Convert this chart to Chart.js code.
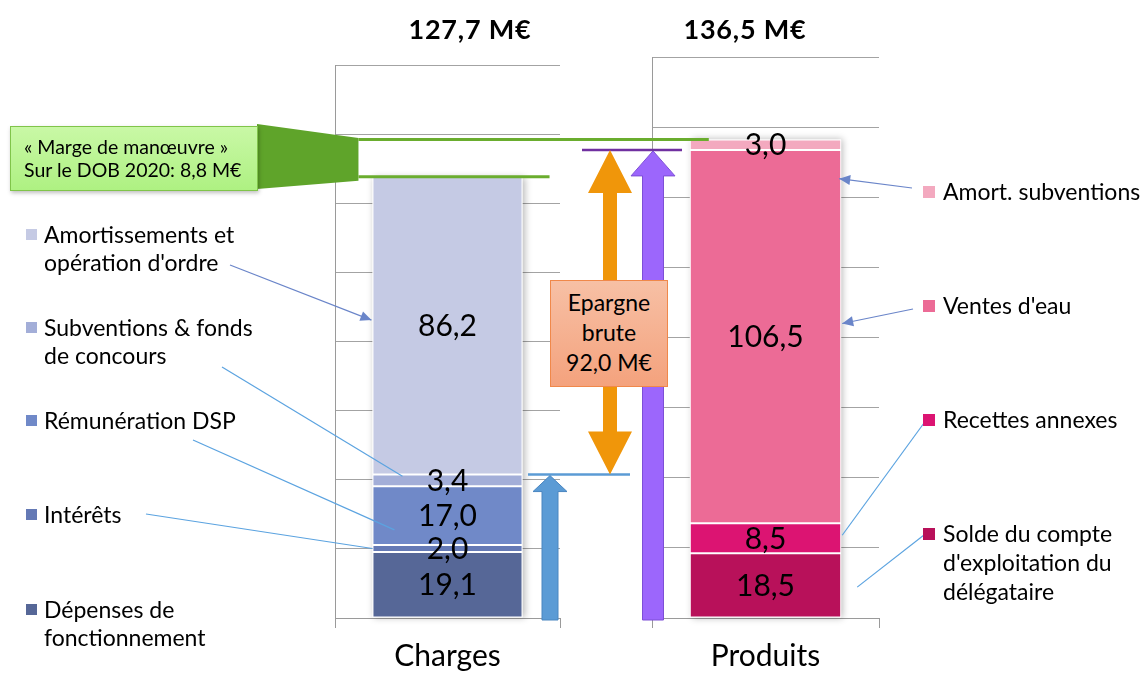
<!DOCTYPE html>
<html lang="fr">
<head>
  <meta charset="UTF-8"/>
  <title>Charges / Produits</title>
  <script src="https://cdn.jsdelivr.net/npm/chart.js"></script>
  <style>
    body { margin: 0; background: #fff; font-family: Lato, "Open Sans", sans-serif; color: #000; }
    #wrap { position: relative; width: 1145px; height: 673px; overflow: hidden; }
    canvas { position: absolute; left: 0; top: 0; }
    .txt { position: absolute; font-size: 23px; line-height: 28px; white-space: nowrap; z-index: 5; }
    .txt .sq { position: absolute; left: 0; top: 9px; width: 11px; height: 11px; }
    .txt span.t { position: absolute; left: 18px; top: 0; }
    .right .sq { width: 12px; height: 12px; }
    .right span.t { left: 20px; }
    .total { position: absolute; top: 12px; font-weight: bold; font-size: 27px; line-height: 34px; letter-spacing: .8px; transform: translateX(-50%); z-index: 5; }
    #marge { position: absolute; left: 10px; top: 126px; width: 233px; height: 55px; padding: 8px 0 0 13px;
             background: linear-gradient(#c9f8a6, #aef182); border: 1px solid #80c44a; font-size: 19.5px; line-height: 23px;
             box-shadow: 1px 2px 4px rgba(0,0,0,.25); z-index: 5; }
    #epargne { position: absolute; left: 550px; top: 280px; width: 116px; height: 99px; padding-top: 6px; text-align: center;
               background: linear-gradient(#f7c0a5, #f4a27d); border: 1.5px solid #f0884a; font-size: 23px; line-height: 30px; z-index: 5; }
  </style>
</head>
<body>
<div id="wrap">
  <canvas id="chargesChart" width="1145" height="673"></canvas>
  <canvas id="produitsChart" width="1145" height="673"></canvas>
  <div class="total" id="totCharges" style="left:470px"></div>
  <div class="total" id="totProduits" style="left:745px"></div>
  <div id="marge"></div>
  <div id="epargne"></div>
  <div id="legends"></div>
</div>
<script>
const categories = ['Charges', 'Produits'];

const chargesNames = ['Dépenses de fonctionnement', 'Intérêts', 'Rémunération DSP', 'Subventions & fonds de concours', "Amortissements et opération d'ordre"];
const chargesValues = [19.1, 2.0, 17.0, 3.4, 86.2];
const chargesColors = ['#566797', '#6479b5', '#7089c8', '#a3aed8', '#c5cae4'];

const produitsNames = ["Solde du compte d'exploitation du délégataire", 'Recettes annexes', "Ventes d'eau", 'Amort. subventions'];
const produitsValues = [18.5, 8.5, 106.5, 3.0];
const produitsColors = ['#b8115a', '#dc1472', '#ec6b96', '#f3a9bf'];

const yMax = 160, yStep = 20;

const fmt = v => v.toFixed(1).replace('.', ',');
const cum = a => a.reduce((r, v) => (r.push(r[r.length - 1] + v), r), [0]);

const cumC = cum(chargesValues), cumP = cum(produitsValues);
const totalC = cumC[cumC.length - 1], totalP = cumP[cumP.length - 1];
const capaciteTop = cumP[3];            // produits hors amort. subventions
const chargesReelles = cumC[4];         // charges hors amortissements
const epargne = capaciteTop - chargesReelles;
const marge = totalP - totalC;

// --- text blocks
document.getElementById('totCharges').textContent = fmt(totalC) + ' M€';
document.getElementById('totProduits').textContent = fmt(totalP) + ' M€';
document.getElementById('marge').innerHTML = '« Marge de manœuvre »<br>Sur le DOB 2020: ' + fmt(marge) + ' M€';
document.getElementById('epargne').innerHTML = 'Epargne<br>brute<br>' + fmt(epargne) + ' M€';

const legendLines = {
  "Amortissements et opération d'ordre": ['Amortissements et', "opération d'ordre"],
  'Subventions & fonds de concours': ['Subventions & fonds', 'de concours'],
  'Dépenses de fonctionnement': ['Dépenses de', 'fonctionnement'],
  "Solde du compte d'exploitation du délégataire": ['Solde du compte', "d'exploitation du", 'délégataire']
};
const legendLeft = [[4, 229], [3, 322], [2, 415], [1, 509], [0, 604]];
const legendRight = [[3, 186], [2, 300], [1, 414], [0, 528]];
const legendBox = document.getElementById('legends');
function addLegend(name, color, x, sqTop, right) {
  const d = document.createElement('div');
  d.className = 'txt' + (right ? ' right' : '');
  d.style.left = x + 'px';
  d.style.top = (sqTop - 9) + 'px';
  const lines = legendLines[name] || [name];
  d.innerHTML = `<div class="sq" style="background:${color}"></div><span class="t">${lines.join('<br>')}</span>`;
  if (right) d.style.lineHeight = '29px';
  legendBox.appendChild(d);
}
legendLeft.forEach(([i, y]) => addLegend(chargesNames[i], chargesColors[i], 26, y, false));
legendRight.forEach(([i, y]) => addLegend(produitsNames[i], produitsColors[i], 923, y, true));

// --- plugins
const barShadow = {
  id: 'barShadow',
  beforeDatasetsDraw(chart) {
    const n = chart.data.datasets.length;
    const b = chart.getDatasetMeta(0).data[0], t = chart.getDatasetMeta(n - 1).data[0];
    const ctx = chart.ctx;
    ctx.save();
    ctx.shadowColor = 'rgba(0,0,0,0.28)';
    ctx.shadowBlur = 7;
    ctx.shadowOffsetX = 2;
    ctx.fillStyle = '#fff';
    ctx.fillRect(b.x - b.width / 2, t.y, b.width, b.base - t.y);
    ctx.restore();
  }
};
const valueLabels = {
  id: 'valueLabels',
  afterDatasetsDraw(chart) {
    const ctx = chart.ctx;
    ctx.save();
    ctx.font = '30px Lato';
    ctx.fillStyle = '#000';
    ctx.textAlign = 'center';
    ctx.textBaseline = 'middle';
    chart.data.datasets.forEach((ds, i) => {
      const el = chart.getDatasetMeta(i).data[0];
      ctx.fillText(fmt(ds.data[0]), el.x, (el.y + el.base) / 2 + 1);
    });
    ctx.restore();
  }
};

function makeChart(id, cat, names, values, colors, pad, extra) {
  return new Chart(document.getElementById(id), {
    type: 'bar',
    data: {
      labels: [cat],
      datasets: names.map((n, i) => ({
        label: n, data: [values[i]], backgroundColor: colors[i],
        borderColor: '#fff', borderWidth: 1, borderSkipped: false,
        barPercentage: 0.667, categoryPercentage: 1
      }))
    },
    options: {
      responsive: false, animation: false,
      layout: { padding: pad },
      plugins: { legend: { display: false }, tooltip: { enabled: false } },
      scales: {
        x: {
          stacked: true,
          grid: { offset: true, drawOnChartArea: false, tickLength: 10, color: '#9a9a9a' },
          border: { color: '#9a9a9a' },
          ticks: { padding: 10, color: '#000', font: { family: 'Lato', size: 30 } },
          afterFit(s) { s.height = 55; }
        },
        y: {
          stacked: true, min: 0, max: yMax,
          ticks: { stepSize: yStep, display: false },
          grid: { color: '#a3a3a3', drawTicks: false },
          border: { color: '#9a9a9a' },
          afterFit(s) { s.width = 0; }
        }
      }
    },
    plugins: [barShadow, valueLabels].concat(extra || [])
  });
}

const chargesChart = makeChart('chargesChart', categories[0], chargesNames, chargesValues, chargesColors,
  { left: 335, right: 1145 - 560, top: 65, bottom: 0 });

function upArrow(ctx, x, tail, tip, sw, hw, hh, fill, stroke) {
  ctx.beginPath();
  ctx.moveTo(x - sw / 2, tail);
  ctx.lineTo(x - sw / 2, tip + hh);
  ctx.lineTo(x - hw / 2, tip + hh);
  ctx.lineTo(x, tip);
  ctx.lineTo(x + hw / 2, tip + hh);
  ctx.lineTo(x + sw / 2, tip + hh);
  ctx.lineTo(x + sw / 2, tail);
  ctx.closePath();
  ctx.fillStyle = fill; ctx.fill();
  if (stroke) { ctx.strokeStyle = stroke; ctx.lineWidth = 1; ctx.stroke(); }
}
function doubleArrow(ctx, x, top, bot, sw, hw, hh, fill) {
  ctx.beginPath();
  ctx.moveTo(x, top);
  ctx.lineTo(x + hw / 2, top + hh);
  ctx.lineTo(x + sw / 2, top + hh);
  ctx.lineTo(x + sw / 2, bot - hh);
  ctx.lineTo(x + hw / 2, bot - hh);
  ctx.lineTo(x, bot);
  ctx.lineTo(x - hw / 2, bot - hh);
  ctx.lineTo(x - sw / 2, bot - hh);
  ctx.lineTo(x - sw / 2, top + hh);
  ctx.lineTo(x - hw / 2, top + hh);
  ctx.closePath();
  ctx.fillStyle = fill; ctx.fill();
}
function line(ctx, x1, y1, x2, y2, color, w) {
  ctx.beginPath(); ctx.moveTo(x1, y1); ctx.lineTo(x2, y2);
  ctx.strokeStyle = color; ctx.lineWidth = w; ctx.stroke();
}
function leader(ctx, x1, y1, x2, y2, color, head) {
  line(ctx, x1, y1, x2, y2, color, 1.2);
  if (!head) return;
  const a = Math.atan2(y2 - y1, x2 - x1), L = 11, W = 5;
  ctx.beginPath();
  ctx.moveTo(x2, y2);
  ctx.lineTo(x2 - L * Math.cos(a) + W * Math.sin(a), y2 - L * Math.sin(a) - W * Math.cos(a));
  ctx.lineTo(x2 - L * Math.cos(a) - W * Math.sin(a), y2 - L * Math.sin(a) + W * Math.cos(a));
  ctx.closePath();
  ctx.fillStyle = color; ctx.fill();
}

const annotations = {
  id: 'annotations',
  afterDraw(chart) {
    const ctx = chart.ctx;
    const yC = chargesChart.scales.y, yP = chart.scales.y;
    const bc = chargesChart.getDatasetMeta(0).data[0], bp = chart.getDatasetMeta(0).data[0];
    const cL = bc.x - bc.width / 2, cR = bc.x + bc.width / 2;
    const pL = bp.x - bp.width / 2, pR = bp.x + bp.width / 2;
    const yTopP = yP.getPixelForValue(totalP), yTopC = yC.getPixelForValue(totalC);
    const yCap = yP.getPixelForValue(capaciteTop), yReel = yC.getPixelForValue(chargesReelles);
    const base = yP.getPixelForValue(0) + 2;
    ctx.save();

    // marge de manoeuvre
    ctx.beginPath();
    ctx.moveTo(257, 124); ctx.lineTo(cL - 14, yTopP - 1.5);
    ctx.lineTo(cL - 14, yTopC + 4); ctx.lineTo(257, 189);
    ctx.closePath(); ctx.fillStyle = '#5fa42a'; ctx.fill();
    line(ctx, cL - 14, yTopP, pL + 19, yTopP, '#6aad2e', 3);
    line(ctx, cL - 14, yTopC, cR + 27, yTopC, '#6aad2e', 3);

    // epargne brute
    line(ctx, 582, yCap, 682, yCap, '#7030a0', 2.5);
    line(ctx, 528, yReel, 630, yReel, '#5b9bd5', 2.5);
    doubleArrow(ctx, 610, yCap, yReel, 14, 44, 43, '#f0960a');
    upArrow(ctx, 653, base, yCap + 1, 21, 44, 25, '#9c66fc', '#7d4fd6');
    upArrow(ctx, 550, base, yReel + 1, 16, 34, 16, '#5b9bd5', '#4a86c0');

    // leader lines
    const dark = '#6a85c9', light = '#5ba3e0';
    leader(ctx, 230, 265, cL - 1, yC.getPixelForValue(86.2), dark, true);
    leader(ctx, 222, 367, cL + 30, yC.getPixelForValue(41), light, false);
    leader(ctx, 193, 440, cL + 22, yC.getPixelForValue(25.5), light, false);
    leader(ctx, 146, 514, cL, yC.getPixelForValue(20.1), light, false);
    leader(ctx, 912, 188, pR - 2, yP.getPixelForValue(125.3), dark, true);
    leader(ctx, 913, 309, pR + 1, yP.getPixelForValue(84), dark, true);
    leader(ctx, 924, 423, pR + 1, yP.getPixelForValue(23.6), light, false);
    leader(ctx, 924, 535, pR + 16, yP.getPixelForValue(8.8), light, false);
    ctx.restore();
  }
};

const produitsChart = makeChart('produitsChart', categories[1], produitsNames, produitsValues, produitsColors,
  { left: 652, right: 1145 - 879, top: 57, bottom: 0 }, [annotations]);
</script>
</body>
</html>
